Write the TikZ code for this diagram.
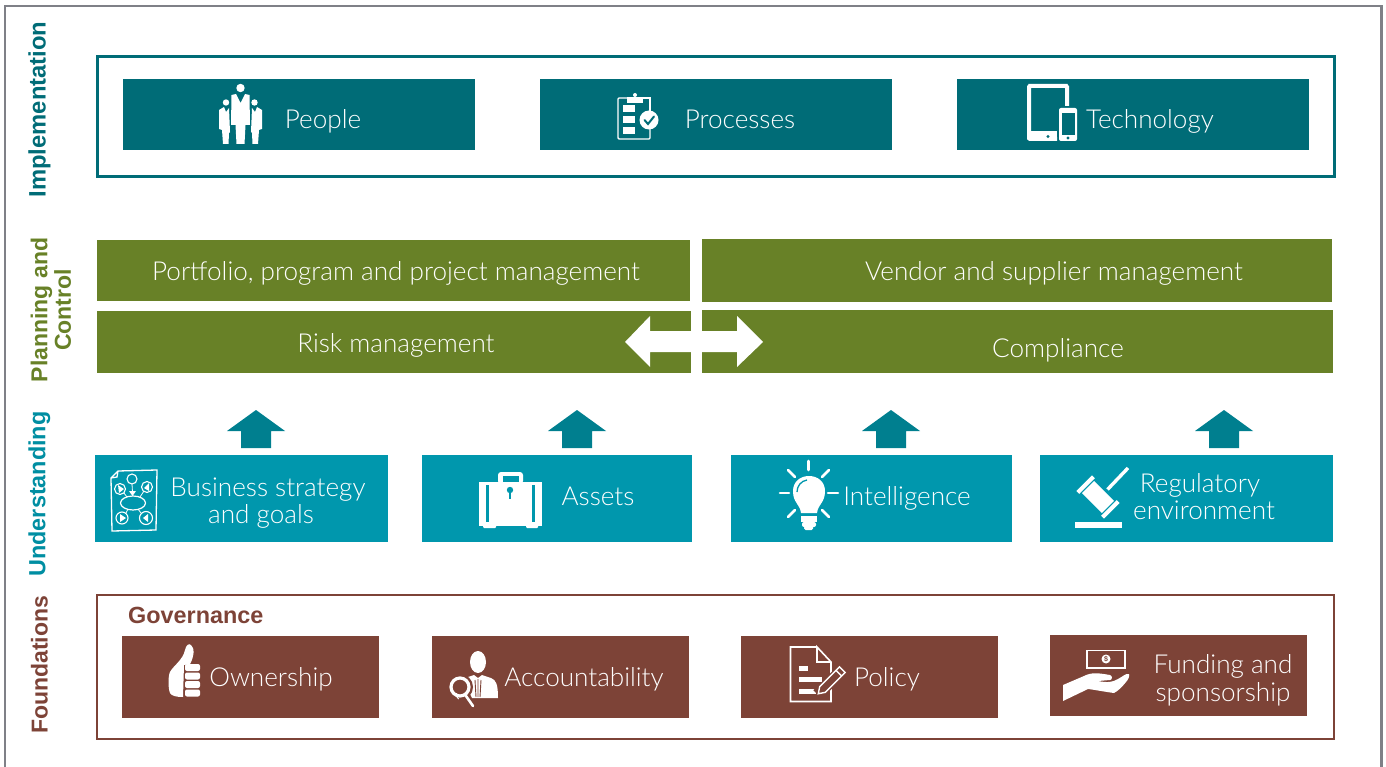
\documentclass[tikz,border=0pt]{standalone}
\usepackage{fontspec}
\setmainfont{Lato}[UprightFont={* Light},BoldFont={* Bold}]
\newfontfamily\hd{Liberation Sans}[Scale=1]
\definecolor{tealdk}{HTML}{006C77}
\definecolor{tealmd}{HTML}{0097AD}
\definecolor{grn}{HTML}{688127}
\definecolor{brn}{HTML}{7D4337}
\definecolor{frm}{HTML}{7F8087}
\tikzset{
 box/.style={anchor=north west,inner sep=0pt,outer sep=0pt,draw=none},
 tbox/.style={box,fill=tealdk},
 mbox/.style={box,fill=tealmd},
 gbox/.style={box,fill=grn},
 bbox/.style={box,fill=brn},
 lbl/.style={text=white,inner sep=0pt,yshift=-2.5pt,text height=19pt,text depth=5.5pt,font=\fontsize{26.1}{29}\selectfont},
 side/.style={inner sep=0pt,rotate=90,align=center},
 bar/.style={draw=white,line width=2.6pt,line cap=round},
}
\begin{document}
\begin{tikzpicture}[x=1pt,y=-1pt]
\useasboundingbox (0,0) rectangle (1386,767);
\draw[frm,line width=2.6pt] (5,770) -- (5,6) -- (1381.5,6) -- (1381.5,770);
% side labels
\node[side,text=tealdk,font=\hd\bfseries\fontsize{23.8}{25}\selectfont] (simpl) at (39.5,109.5) {Implementation};
\node[side,text=grn,font=\hd\bfseries\fontsize{23}{25}\selectfont] (splan) at (51,310) {Planning and\\[-1.5pt]Control};
\node[side,text=tealmd!80!tealdk,font=\hd\bfseries\fontsize{23.4}{25}\selectfont] (sund) at (39.5,494) {Understanding};
\node[side,text=brn,font=\hd\bfseries\fontsize{23}{25}\selectfont] (sfound) at (39.5,665) {Foundations};
% frames
\node[box,draw=tealdk,line width=3pt,minimum width=1237pt,minimum height=120pt] (impl) at (97,57) {};
\node[box,draw=brn,line width=2.5pt,minimum width=1237pt,minimum height=144pt] (found) at (97,595) {};
% implementation
\node[tbox,minimum width=352pt,minimum height=71pt] (people) at (123,79) {};
\node[tbox,minimum width=352pt,minimum height=71pt] (proc) at (540,79) {};
\node[tbox,minimum width=352pt,minimum height=71pt] (tech) at (957,79) {};
\node[lbl] (tpeople) at (323,119) {People};
\node[lbl] (tproc) at (740,119) {Processes};
\node[lbl] (ttech) at (1150,119) {Technology};
% planning
\node[gbox,minimum width=593pt,minimum height=61pt] (port) at (97,240) {};
\node[gbox,minimum width=630pt,minimum height=63pt] (vend) at (702,239) {};
\node[gbox,minimum width=594pt,minimum height=62pt] (risk) at (97,311) {};
\node[gbox,minimum width=631pt,minimum height=63pt] (comp) at (702,310) {};
\node[lbl] (tport) at (396,271) {Portfolio, program and project management};
\node[lbl] (tvend) at (1054,271) {Vendor and supplier management};
\node[lbl] (trisk) at (396,343) {Risk management};
\node[lbl] (tcomp) at (1058,348) {Compliance};
\fill[white] (625,342) -- (650,316) -- (650,331) -- (737,331) -- (737,316) -- (763,342) -- (737,367) -- (737,352) -- (650,352) -- (650,367) -- cycle;
% up arrows
\foreach \c in {256,577,891,1224}
  \fill[tealdk!55!tealmd] (\c,410) -- (\c+29,431) -- (\c+15,431) -- (\c+15,448) -- (\c-15,448) -- (\c-15,431) -- (\c-29,431) -- cycle;
% understanding
\node[mbox,minimum width=293pt,minimum height=87pt] (biz) at (95,455) {};
\node[mbox,minimum width=270pt,minimum height=87pt] (assets) at (422,455) {};
\node[mbox,minimum width=281pt,minimum height=87pt] (intel) at (731,455) {};
\node[mbox,minimum width=293pt,minimum height=87pt] (reg) at (1040,455) {};
\node[lbl] (tbiz1) at (268,487) {Business strategy};
\node[lbl] (tbiz2) at (261,514) {and goals};
\node[lbl] (tassets) at (598,496) {Assets};
\node[lbl] (tintel) at (907,496) {Intelligence};
\node[lbl] (treg1) at (1200,483) {Regulatory};
\node[lbl] (treg2) at (1204,510) {environment};
% foundations
\node[anchor=west,inner sep=0pt,text=brn,font=\hd\bfseries\fontsize{23.4}{25}\selectfont] (gov) at (128,615) {Governance};
\node[bbox,minimum width=257pt,minimum height=82pt] (own) at (122,636) {};
\node[bbox,minimum width=257pt,minimum height=82pt] (acc) at (432,636) {};
\node[bbox,minimum width=257pt,minimum height=82pt] (pol) at (741,636) {};
\node[bbox,minimum width=257pt,minimum height=81pt] (fund) at (1050,635) {};
\node[lbl] (town) at (271,677) {Ownership};
\node[lbl] (tacc) at (584,677) {Accountability};
\node[lbl] (tpol) at (887,677) {Policy};
\node[lbl] (tfund1) at (1223,664) {Funding and};
\node[lbl] (tfund2) at (1223,692) {sponsorship};
%% ICONS
% people
\fill[white] (240.5,88) circle (4.2);
\fill[white] (226,102.5) circle (3.2);
\fill[white] (254.5,102.5) circle (3.2);
\fill[white] (231.5,95) -- (236,94) -- (240.5,103) -- (245,94) -- (249.5,95) -- (250,125) -- (245.5,125) -- (244.5,144) -- (236.5,144) -- (235.5,125) -- (231,125) -- cycle;
\fill[white] (219,110) -- (224,107) -- (226,112) -- (229,108) -- (230,132) -- (229,133) -- (228.5,144) -- (223,144) -- (222,130) -- (219,129) -- cycle;
\fill[white] (252,108) -- (255,112) -- (257,107) -- (262,110) -- (262,129) -- (259,130) -- (258,144) -- (252.5,144) -- (252,133) -- (251,132) -- cycle;
% clipboard
\draw[white,line width=1.4pt,rounded corners=1pt] (627,98) -- (618,98) -- (618,139) -- (650,139) -- (650,128);
\draw[white,line width=1.4pt] (643,98) -- (650,98) -- (650,112);
\fill[white] (627,97) rectangle (643,103);
\fill[white] (635,95) circle (2);
\foreach \yy in {105,116,127} \fill[white] (623,\yy) rectangle (635,\yy+7);
\fill[white] (649,120) circle (9.5);
\draw[tealdk,line width=2pt,line cap=round] (644.5,120) -- (648,124) -- (654,116.5);
% devices
\draw[white,line width=4pt,rounded corners=3pt] (1057,139) -- (1033,139) .. controls (1030,139) and (1029,137) .. (1029,135) -- (1029,90) .. controls (1029,87) and (1031,86) .. (1033,86) -- (1063,86) .. controls (1065,86) and (1067,87) .. (1067,90) -- (1067,106);
\fill[white] (1029,131) rectangle (1057,141);
\fill[tealdk] (1048,136.5) circle (1.7);
\fill[white,rounded corners=2pt] (1059,108) rectangle (1077,141);
\fill[tealdk] (1061.5,113.5) rectangle (1074.5,135);
\fill[tealdk] (1068,138) circle (1.6);
% business strategy
\draw[white,line width=1.3pt] (118,471) -- (157,470) -- (156,530) -- (112,531) -- (111,478) -- cycle (111,478) -- (117,477) -- (118,471);
\foreach \p/\r in {{(132,479)}/5,{(147,487)}/5.5,{(120,489)}/5.5,{(122,518)}/6,{(146,518)}/6.5}
  \draw[white,line width=1.1pt] \p circle (\r);
\draw[white,line width=1.2pt] (133,503) ellipse (12.5 and 7);
\fill[white] (118,485) -- (124,489) -- (119,493) -- cycle;
\fill[white] (149,483) -- (149,491) -- (144,488) -- cycle;
\fill[white] (120,514) -- (126,518) -- (120,522) -- cycle;
\fill[white] (148,514) -- (148,522) -- (143,518) -- cycle;
\fill[white] (129,491) -- (136,491) -- (132.5,496) -- cycle;
\draw[white,line width=.8pt] (132,484) -- (132.5,492) (124,493) -- (127,497) (144,491) -- (140,497) (126,513) -- (128,509) (141,513) -- (138,509);
% briefcase
\fill[white,rounded corners=3pt] (498,484) -- (498,472) -- (523,472) -- (523,484) -- cycle;
\fill[tealmd] (503,476) rectangle (519,484);
\fill[white] (479,482) rectangle (542,526);
\fill[white,rounded corners=1pt] (483,524) rectangle (496,528);
\fill[white,rounded corners=1pt] (526,524) rectangle (538,528);
\fill[tealmd] (486,485) rectangle (489,522);
\fill[tealmd] (532,485) rectangle (535,522);
\fill[tealmd] (510,490) circle (3.2);
\fill[tealmd] (509,491) rectangle (511,499);
% bulb
\foreach \a/\b/\c/\d in {808.5/461/808.5/470,780/493/789/493,828/493/838/493,788/470/795/477,829/470/822/477,788/517/795/510,829/517/822/510}
  \draw[bar] (\a,\b) -- (\c,\d);
\fill[white] (801,513) .. controls (800,504) and (793,503) .. (793,491) .. controls (793,482) and (800,476) .. (809,476) .. controls (818,476) and (825,482) .. (825,491) .. controls (825,503) and (818,504) .. (817,513) -- cycle;
\fill[white] (801,515.5) rectangle (817,522);
\fill[white,rounded corners=2pt] (802,522) rectangle (816,527);
\fill[white,rounded corners=1.5pt] (804,526) rectangle (813,530);
\draw[tealmd,line width=1.3pt] (797,492) .. controls (797,486) and (801,481) .. (807,480);
% gavel
\fill[white] (1075,522) rectangle (1122,528);
\draw[white,line width=3.4pt] (1107.5,489.5) -- (1128,468);
\begin{scope}[shift={(1098,497)},rotate=-45]
\fill[white] (-14,-8.5) rectangle (14,8.5);
\fill[white] (-19.5,-11) rectangle (-15.5,11);
\fill[white] (15.5,-11) rectangle (19.5,11);
\end{scope}
% thumb
\fill[white] (183,697) .. controls (176,697) and (172,696) .. (170,693) .. controls (168,688) and (168,676) .. (170,672) .. controls (173,666) and (183,660) .. (185,650) .. controls (186,645) and (189,643) .. (191,645) .. controls (195,648) and (194,657) .. (190,664) -- (184,665) -- cycle;
\foreach \yy in {664,672.5,681,689.5}
  \fill[white,rounded corners=2pt] (185,\yy) rectangle (200,\yy+7);
% accountability
\fill[white] (478,662) ellipse (8 and 11);
\fill[white] (468,677) -- (474,675) -- (478,678) -- (482,675) -- (491,678) .. controls (496,680) and (498,684) .. (498,698) -- (472,698) -- (468,690) -- cycle;
\draw[brn,line width=.9pt] (478,679) -- (478,697) (475,680) -- (476,697) (481,680) -- (480,697);
\fill[brn] (460,687) circle (13);
\draw[white,line width=3.2pt] (460,687) circle (9);
\draw[white,line width=1pt] (456.5,693) arc (200:120:5);
\draw[white,line width=2.6pt,line cap=round] (466,696) -- (473,706);
% policy
\draw[white,line width=1.6pt] (817,647) -- (790.5,647) -- (790.5,701.5) -- (831,701.5) -- (831,662) -- (817,647) -- (817,662) -- (831,662);
\fill[white] (799,665.5) rectangle (808,670.5);
\fill[white] (799,676.5) rectangle (822,682);
\fill[white] (799,688.5) rectangle (816,694);
\begin{scope}[shift={(831,681)},rotate=45]
\fill[brn] (-19,-6) rectangle (19,6);
\draw[white,line width=1.4pt] (-12,-4) -- (16,-4) -- (16,4) -- (-12,4) -- (-18,0) -- cycle (11,-4) -- (11,4);
\end{scope}
% funding
\draw[white,line width=1.5pt] (1087,650.5) rectangle (1125,668);
\fill[white] (1106,659) circle (4.5);
\node[text=brn,inner sep=0pt,font=\hd\bfseries\fontsize{7}{7}\selectfont] (dollar) at (1106,659) {\$};
\fill[white] (1063,701) -- (1063,685) -- (1084,676) .. controls (1092,672) and (1098,673) .. (1110,675) .. controls (1113,676) and (1112,680) .. (1110,680) -- (1098,681) .. controls (1108,683) and (1113,682) .. (1118,679) .. controls (1122,677) and (1126,673) .. (1129,674) .. controls (1130,676) and (1128,680) .. (1126,682) .. controls (1122,687) and (1118,691) .. (1114,693) .. controls (1106,692) and (1096,690) .. (1088,689) -- cycle;
\end{tikzpicture}
\end{document}
